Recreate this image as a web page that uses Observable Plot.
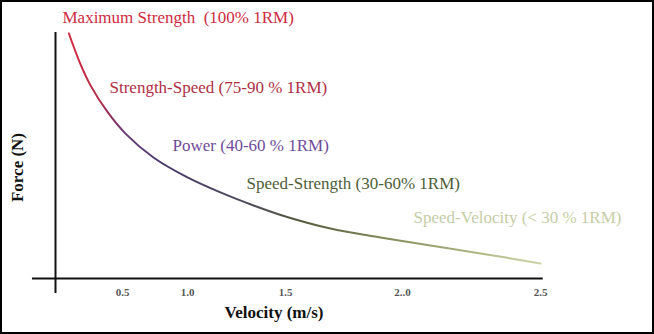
<!DOCTYPE html>
<html><head><meta charset="utf-8">
<script src="https://cdn.jsdelivr.net/npm/d3@7"></script>
<script src="https://cdn.jsdelivr.net/npm/@observablehq/plot@0.6"></script>
<style>
body{margin:0;background:#fff;}
#chart svg{display:block; outline:2px solid #000; outline-offset:-2px;}
</style></head><body><div id="chart"></div>
<script>
// Force–velocity curve
const velocity = [0.1, 0.187, 0.261, 0.388, 0.523, 0.738, 1.0, 1.168, 1.337, 1.5, 1.692, 1.906, 2.101, 2.283, 2.5];
const force    = [99.6, 87.0, 78.5, 67.7, 58.9, 49.2, 41.1, 35.0, 29.7, 25.2, 20.3, 16.7, 13.4, 10.2, 6.1];

// Training zones
const zoneLabels   = ["Maximum Strength\u00a0 (100% 1RM)", "Strength-Speed (75-90 % 1RM)", "Power (40-60 % 1RM)", "Speed-Strength (30-60% 1RM)", "Speed-Velocity (< 30 % 1RM)"];
const zoneVelocity = [0.052, 0.403, 0.885, 1.301, 2.04];
const zoneForce    = [106.1, 77.6, 54.1, 38.6, 24.8];

// Axis ticks
const tickValues = [0.5, 1.0, 1.5, 2.0, 2.5];
const tickLabels = ["0.5", "1.0", "1.5", "2..0", "2.5"];
const xTitle = "Velocity (m/s)";
const yTitle = "Force (N)";

const curve = velocity.map((v, i) => ({v, f: force[i]}));
const zones = zoneLabels.map((label, i) => ({label, v: zoneVelocity[i], f: zoneForce[i]}));

const zoneColors = ["#cf2b3f", "#b02f45", "#6f4c9c", "#4f5e38", "#c5cda6"];
const gradStops = [[0.1, "#d22a3e"], [0.33, "#b02c48"], [0.5, "#6a3a72"], [0.8, "#4a3c6c"], [1.3, "#4e4a5a"], [1.6, "#5a5e3e"], [2.0, "#8c9460"], [2.5, "#cdd4a6"]];

const gradient = (index, scales) => {
  const ns = "http://www.w3.org/2000/svg";
  const defs = document.createElementNS(ns, "defs");
  const g = document.createElementNS(ns, "linearGradient");
  g.setAttribute("id", "fvGrad");
  g.setAttribute("gradientUnits", "userSpaceOnUse");
  const x0 = scales.x(gradStops[0][0]), x1 = scales.x(gradStops[gradStops.length - 1][0]);
  g.setAttribute("x1", x0); g.setAttribute("x2", x1);
  g.setAttribute("y1", 0); g.setAttribute("y2", 0);
  for (const [v, c] of gradStops) {
    const s = document.createElementNS(ns, "stop");
    s.setAttribute("offset", (scales.x(v) - x0) / (x1 - x0));
    s.setAttribute("stop-color", c);
    g.appendChild(s);
  }
  defs.appendChild(g);
  return defs;
};

const chart = Plot.plot({
  width: 654,
  height: 334,
  marginTop: 32,
  marginBottom: 56,
  marginLeft: 55,
  marginRight: 114,
  style: {fontFamily: "'Liberation Serif', 'Times New Roman', serif", background: "#fff"},
  x: {type: "linear", domain: [0, 0.5, 1, 1.5, 2, 2.5], range: [55, 122, 187, 285, 402, 540], axis: null},
  y: {domain: [0, 100], axis: null},
  color: {domain: zoneLabels, range: zoneColors},
  marks: [
    gradient,
    Plot.ruleY([0], {x1: -0.172, x2: 2.51, stroke: "#111", strokeWidth: 2}),
    Plot.ruleX([0], {y1: -6.1, y2: 100, stroke: "#111", strokeWidth: 2}),
    Plot.axisX(tickValues, {tickFormat: d => tickLabels[tickValues.indexOf(d)], tickSize: 0, tickPadding: 10, fontSize: 11, fontWeight: "bold", fill: "#555", label: null}),
    Plot.line(curve, {x: "v", y: "f", curve: "catmull-rom", stroke: "url(#fvGrad)", strokeWidth: 2}),
    Plot.text(zones, {x: "v", y: "f", text: "label", fill: "label", textAnchor: "start", lineAnchor: "middle", fontSize: 17}),
    Plot.text([xTitle], {frameAnchor: "bottom", textAnchor: "middle", lineAnchor: "middle", dx: -24, dy: 34, fontWeight: "bold", fontSize: 17, fill: "#111"}),
    Plot.text([yTitle], {frameAnchor: "left", textAnchor: "middle", lineAnchor: "middle", rotate: -90, dx: -38, dy: 12, fontWeight: "bold", fontSize: 17, fill: "#111"})
  ]
});
document.getElementById("chart").appendChild(chart);
</script>
</body></html>
